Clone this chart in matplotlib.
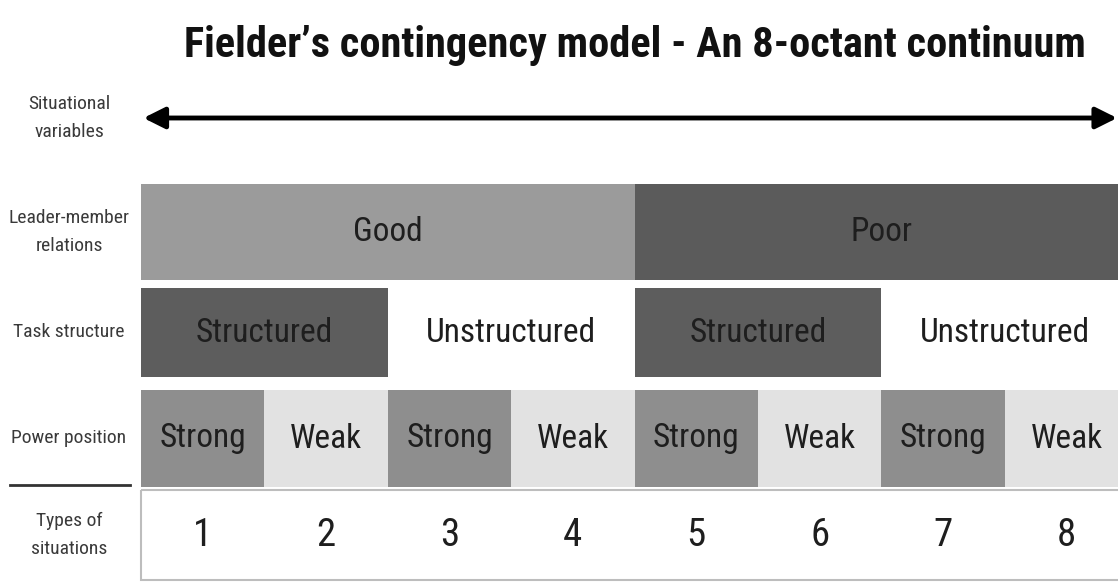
import matplotlib.pyplot as plt

# chart content
title = "Fielder’s contingency model - An 8-octant continuum"
row_labels = ['Situational\nvariables', 'Leader-member\nrelations', 'Task structure',
              'Power position', 'Types of\nsituations']
relations = ['Good', 'Poor']
structure = ['Structured', 'Unstructured', 'Structured', 'Unstructured']
power = ['Strong', 'Weak', 'Strong', 'Weak', 'Strong', 'Weak', 'Strong', 'Weak']
situations = ['1', '2', '3', '4', '5', '6', '7', '8']

fill = {'Good': '#9b9b9b', 'Poor': '#5b5b5b', 'Structured': '#5d5d5d',
        'Unstructured': '#ffffff', 'Strong': '#8e8e8e', 'Weak': '#e2e2e2'}

plt.rcParams['font.family'] = ['Roboto Condensed', 'Liberation Sans Narrow', 'DejaVu Sans']
plt.rcParams['font.stretch'] = 'condensed'

# layout: x in octants, y in pixels from the top
OCT_PX = 123.4
LEFT_PX = 141
rows = [(relations, 184, 96), (structure, 288, 89), (power, 390, 97), (situations, 490, 90)]
label_y = [118, 232, 332, 438, 535]

fig = plt.figure(figsize=(11.18, 5.84), dpi=100)
ax = fig.add_axes([0, 0, 1, 1])
ax.set_xlim(-LEFT_PX / OCT_PX, (1118 - LEFT_PX) / OCT_PX)
ax.set_ylim(584, 0)
ax.axis('off')

for labels, top, h in rows:
    w = 8 / len(labels)
    lefts = [i * w for i in range(len(labels))]
    colors = [fill.get(lab, '#ffffff') for lab in labels]
    ax.barh(top + h / 2, [w] * len(labels), left=lefts, height=h, color=colors,
            edgecolor='none')
    size = 24 if labels is not situations else 28
    for x0, lab in zip(lefts, labels):
        ax.text(x0 + w / 2, top + h / 2, lab, ha='center', va='center',
                fontsize=size, color='#1e1e1e')

# outline of the bottom row
ax.barh(490 + 45, 8, left=0, height=90, color='none', edgecolor='#bdbdbd', lw=1.5)

# row labels
for y, lab in zip(label_y, row_labels):
    ax.text(-0.583, y, lab, ha='center', va='center', fontsize=14,
            color='#3a3a3a', linespacing=1.75)
ax.plot([-1.062, -0.089], [485, 485], color='#333333', lw=2)

# continuum arrow
ax.annotate('', xy=(7.91, 118), xytext=(0.02, 118),
            arrowprops=dict(arrowstyle='<|-|>', lw=3.5, color='black',
                            mutation_scale=32, shrinkA=0, shrinkB=0))

ax.text(635 / OCT_PX - LEFT_PX / OCT_PX, 45, title, ha='center', va='center',
        fontsize=30.5, fontweight='bold', color='#111111')

fig.savefig('out.png', dpi=100)
